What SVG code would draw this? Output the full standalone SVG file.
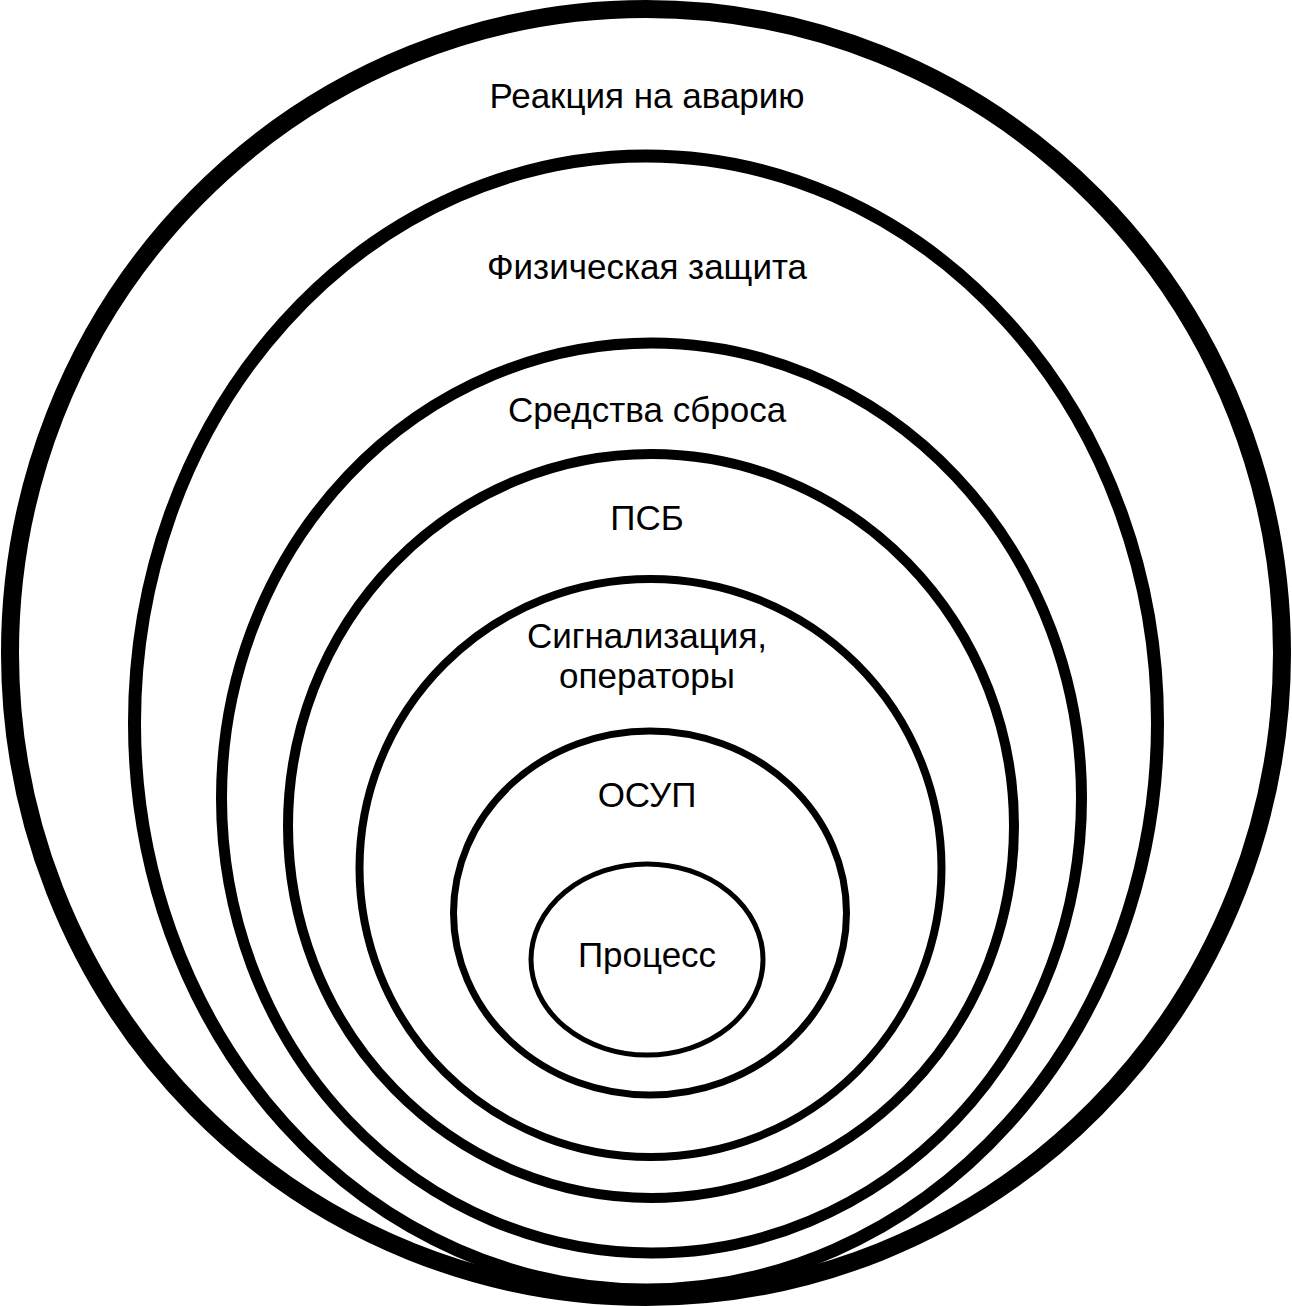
<svg xmlns="http://www.w3.org/2000/svg" width="1292" height="1306" viewBox="0 0 1292 1306">
<style>
.ring{fill:none;stroke:#000}
.lbl{font-family:"Liberation Sans",Arial,sans-serif;font-size:35px;fill:#000;text-anchor:middle}
</style>
<rect width="1292" height="1306" fill="#fff"/>
<g id="connectors"/>
<g id="n-reaction"><ellipse class="ring" cx="646" cy="653" rx="636" ry="644" stroke-width="18"/><text class="lbl" x="647" y="108">Реакция на аварию</text></g>
<g id="n-physical"><ellipse class="ring" cx="646" cy="723" rx="511.5" ry="567" stroke-width="13"/><text class="lbl" x="647" y="279">Физическая защита</text></g>
<g id="n-relief"><ellipse class="ring" cx="651.5" cy="798" rx="430" ry="455" stroke-width="11"/><text class="lbl" x="647" y="422">Средства сброса</text></g>
<g id="n-sis"><ellipse class="ring" cx="651" cy="826" rx="363" ry="372" stroke-width="10"/><text class="lbl" x="647" y="530">ПСБ</text></g>
<g id="n-alarms"><ellipse class="ring" cx="650.5" cy="868" rx="291" ry="289" stroke-width="8"/><text class="lbl" x="647" y="648">Сигнализация,</text><text class="lbl" x="647" y="688">операторы</text></g>
<g id="n-bpcs"><ellipse class="ring" cx="650" cy="913" rx="196.5" ry="182" stroke-width="7"/><text class="lbl" x="647" y="807">ОСУП</text></g>
<g id="n-process"><ellipse class="ring" cx="647" cy="959.5" rx="116" ry="95.5" stroke-width="5"/><text class="lbl" x="647" y="967">Процесс</text></g>
</svg>
